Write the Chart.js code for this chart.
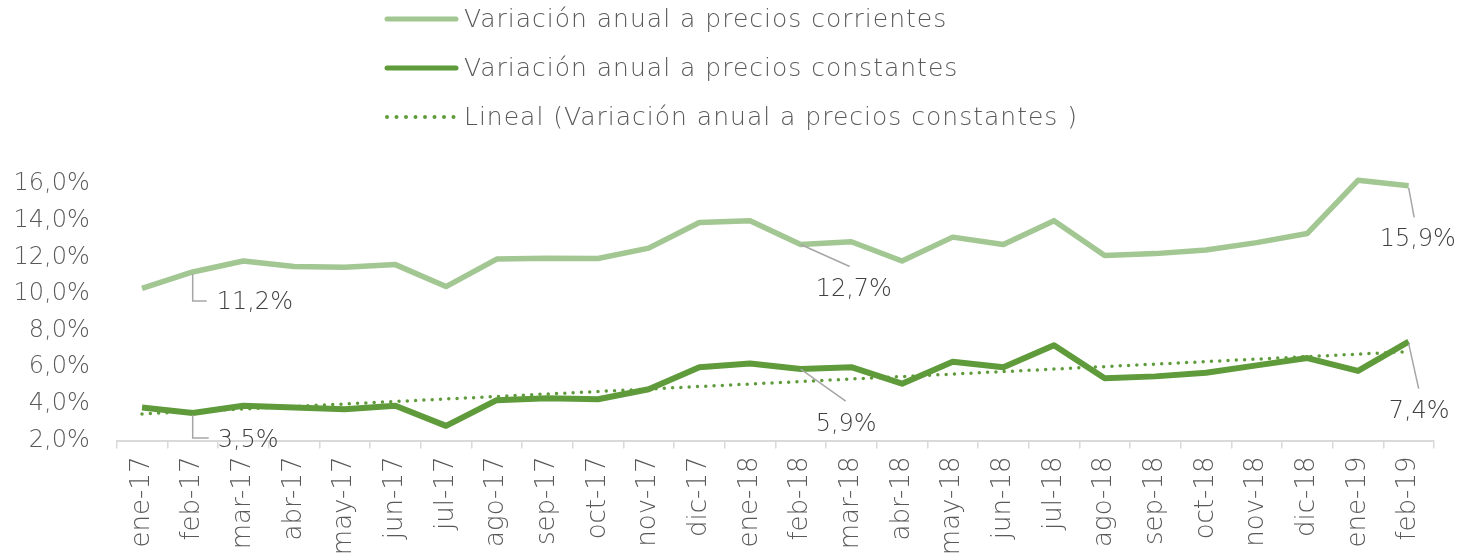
<!DOCTYPE html>
<html>
<head>
<meta charset="utf-8">
<script src="https://cdn.jsdelivr.net/npm/chart.js@4/dist/chart.umd.min.js"></script>
<style>
  html, body { margin: 0; padding: 0; background: #ffffff; overflow: hidden; }
  #wrap { width: 1480px; height: 558px; }
</style>
</head>
<body>
<div id="wrap"><canvas id="c" width="1480" height="558"></canvas></div>
<script>
// ---- data ----
const categories = ['ene-17','feb-17','mar-17','abr-17','may-17','jun-17','jul-17','ago-17','sep-17','oct-17','nov-17','dic-17',
  'ene-18','feb-18','mar-18','abr-18','may-18','jun-18','jul-18','ago-18','sep-18','oct-18','nov-18','dic-18','ene-19','feb-19'];
const corrientes = [10.3, 11.2, 11.8, 11.5, 11.45, 11.6, 10.4, 11.9, 11.95, 11.93, 12.5, 13.9,
  14.0, 12.7, 12.85, 11.8, 13.1, 12.7, 14.0, 12.1, 12.2, 12.4, 12.8, 13.3, 16.2, 15.9];
const constantes = [3.8, 3.5, 3.9, 3.8, 3.7, 3.9, 2.8, 4.2, 4.3, 4.25, 4.8, 6.0,
  6.2, 5.9, 6.0, 5.1, 6.3, 6.0, 7.2, 5.4, 5.5, 5.7, 6.1, 6.5, 5.8, 7.4];
// trend line (read at its two ends)
const trendStart = 3.45;
const trendEnd = 6.85;
const yTicks = [2, 4, 6, 8, 10, 12, 14, 16];
const labelIndices = [1, 13, 25];
const seriesNames = ['Variación anual a precios corrientes', 'Variación anual a precios constantes', 'Lineal (Variación anual a precios constantes )'];

const trend = categories.map((c, i) => i === 0 ? trendStart : (i === categories.length - 1 ? trendEnd : null));

const LIGHT = '#A2C792';
const DARK = '#5F9B3B';
const FONT = 'DejaVu Sans';
const WEIGHT = 200;

const fmt = v => v.toFixed(1).replace('.', ',') + '%';

// custom legend (stacked vertically)
const legendPlugin = {
  id: 'stackLegend',
  afterDraw(chart) {
    const ctx = chart.ctx;
    const rows = [
      { y: 19, color: LIGHT, dash: null, w: 5 },
      { y: 68, color: DARK, dash: null, w: 5 },
      { y: 117, color: DARK, dash: [0, 9.5], w: 4 }
    ];
    ctx.save();
    rows.forEach((r, i) => {
      ctx.beginPath();
      ctx.strokeStyle = r.color;
      ctx.lineWidth = r.w;
      ctx.lineCap = 'round';
      ctx.setLineDash(r.dash || []);
      ctx.moveTo(387, r.y);
      ctx.lineTo(456, r.y);
      ctx.stroke();
      ctx.setLineDash([]);
      ctx.fillStyle = '#595959';
      ctx.font = WEIGHT + ' 25px "' + FONT + '"';
      ctx.letterSpacing = '1px';
      ctx.textBaseline = 'middle';
      ctx.textAlign = 'left';
      ctx.fillText(seriesNames[i], 464, r.y + 1);
      ctx.letterSpacing = '0px';
    });
    ctx.restore();
  }
};

// data labels with leader lines
const labelPlugin = {
  id: 'leaderLabels',
  afterDatasetsDraw(chart) {
    const ctx = chart.ctx;
    const specs = {
      light: [
        { path: [[0, 2], [0, 29], [14, 29]], tx: 24, ty: 31 },
        { path: [[0, 0], [49, 22]], tx: 15, ty: 45 },
        { path: [[0, 2], [5.5, 31.6]], tx: -29, ty: 54 }
      ],
      dark: [
        { path: [[0, 2], [0, 25], [16, 25]], tx: 25, ty: 28 },
        { path: [[0, 0], [45, 32]], tx: 15, ty: 56 },
        { path: [[0, 2], [10, 47]], tx: -20, ty: 70 }
      ]
    };
    const sets = [ { idx: 2, key: 'light', vals: corrientes }, { idx: 1, key: 'dark', vals: constantes } ];
    ctx.save();
    sets.forEach(s => {
      const meta = chart.getDatasetMeta(s.idx);
      labelIndices.forEach((ci, k) => {
        const p = meta.data[ci];
        const sp = specs[s.key][k];
        ctx.beginPath();
        ctx.strokeStyle = '#A6A6A6';
        ctx.lineWidth = 1.5;
        sp.path.forEach((pt, j) => {
          const x = p.x + pt[0], y = p.y + pt[1];
          if (j === 0) ctx.moveTo(x, y); else ctx.lineTo(x, y);
        });
        ctx.stroke();
        ctx.fillStyle = '#404040';
        ctx.font = WEIGHT + ' 24px "' + FONT + '"';
        ctx.textBaseline = 'middle';
        ctx.textAlign = 'left';
        ctx.fillText(fmt(s.vals[ci]), p.x + sp.tx, p.y + sp.ty);
      });
    });
    ctx.restore();
  }
};

new Chart(document.getElementById('c'), {
  type: 'line',
  data: {
    labels: categories,
    datasets: [
      { label: seriesNames[2], data: trend, borderColor: DARK, borderWidth: 3.5, borderDash: [0, 8.3],
        borderCapStyle: 'round', spanGaps: true, pointRadius: 0, clip: false, order: 0 },
      { label: seriesNames[1], data: constantes, borderColor: DARK, borderWidth: 6, borderJoinStyle: 'round',
        pointRadius: 0, clip: false, order: 1, tension: 0 },
      { label: seriesNames[0], data: corrientes, borderColor: LIGHT, borderWidth: 5.5, borderJoinStyle: 'round',
        pointRadius: 0, clip: false, order: 2, tension: 0 }
    ]
  },
  options: {
    responsive: false,
    animation: false,
    devicePixelRatio: 1,
    layout: { padding: { top: 184, right: 46, left: 0, bottom: 0 } },
    plugins: { legend: { display: false }, tooltip: { enabled: false } },
    scales: {
      x: {
        offset: true,
        grid: { offset: true, drawOnChartArea: false, drawTicks: true, tickLength: 8, color: '#D9D9D9', lineWidth: 1.5 },
        border: { display: true, color: '#D9D9D9', width: 2 },
        ticks: { minRotation: 90, maxRotation: 90, autoSkip: false, padding: 8, color: '#595959',
          font: { family: FONT, size: 26, weight: WEIGHT } },
        afterFit(scale) { scale.height = 117.5; }
      },
      y: {
        min: 2, max: 16,
        afterBuildTicks(scale) { scale.ticks = yTicks.map(v => ({ value: v })); },
        grid: { display: false, drawTicks: false },
        border: { display: false },
        ticks: { padding: 27, color: '#595959', font: { family: FONT, size: 24, weight: WEIGHT }, callback: v => fmt(v) },
        afterFit(scale) { scale.width = 116.7; }
      }
    }
  },
  plugins: [legendPlugin, labelPlugin]
});
</script>
</body>
</html>
